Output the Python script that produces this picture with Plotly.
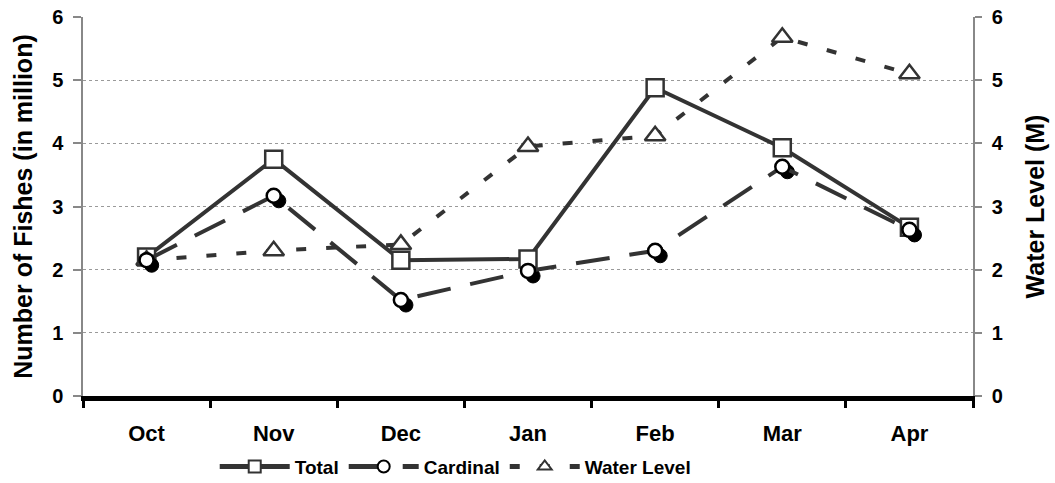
import plotly.graph_objects as go

months = ["Oct", "Nov", "Dec", "Jan", "Feb", "Mar", "Apr"]
total = [2.2, 3.75, 2.15, 2.17, 4.88, 3.93, 2.67]
cardinal = [2.15, 3.17, 1.52, 1.98, 2.3, 3.63, 2.63]
water_level = [2.15, 2.3, 2.4, 3.95, 4.12, 5.68, 5.1]
y_ticks = [0, 1, 2, 3, 4, 5, 6]

FONT = "Liberation Sans, Arial, sans-serif"
LINE = "#333333"

fig = go.Figure()

fig.add_trace(go.Scatter(
    x=months, y=total, name="Total", mode="lines+markers",
    line=dict(color=LINE, width=4),
    marker=dict(symbol="square", size=17, color="white", line=dict(color=LINE, width=2.5)),
    xaxis="x", yaxis="y", legendrank=1,
))
fig.add_trace(go.Scatter(
    x=months, y=water_level, name="Water Level", mode="lines+markers",
    line=dict(color=LINE, width=4, dash="10px,20px"),
    marker=dict(symbol="triangle-up", size=18, color="white", line=dict(color=LINE, width=2.5)),
    xaxis="x", yaxis="y2", legendrank=3,
))
# shadow of the cardinal markers (shifted via offset overlay axes)
fig.add_trace(go.Scatter(
    x=months, y=cardinal, name="Cardinal shadow", mode="markers",
    marker=dict(symbol="circle", size=14, color="black", line=dict(color="black", width=1)),
    xaxis="x2", yaxis="y3", showlegend=False, hoverinfo="skip",
))
fig.add_trace(go.Scatter(
    x=months, y=cardinal, name="Cardinal", mode="lines+markers",
    line=dict(color=LINE, width=4, dash="34px,20px"),
    marker=dict(symbol="circle", size=14, color="white", line=dict(color="black", width=2.5)),
    xaxis="x3", yaxis="y4", legendrank=2,
))

dx = 0.04
dy = 0.08
fig.update_layout(
    width=1055, height=483,
    margin=dict(l=83, r=82, t=17, b=87),
    paper_bgcolor="white", plot_bgcolor="white",
    font=dict(family=FONT, size=18, color="black"),
    showlegend=True,
    legend=dict(orientation="h", x=0.148, xanchor="left", y=0.034, yanchor="middle",
                yref="container",
                font=dict(family=FONT, size=19, color="black", weight="bold"),
                itemwidth=70, tracegroupgap=0, itemsizing="constant"),
    xaxis=dict(type="category", categoryorder="array", categoryarray=months,
               range=[-0.5, 6.5], showgrid=False, showline=True, linecolor="black", linewidth=5,
               ticks="outside", tickson="boundaries", ticklen=7, tickwidth=3, tickcolor="black",
               ticklabelstandoff=14,
               tickfont=dict(family=FONT, size=22, color="black", weight="bold"),
               zeroline=False, automargin=False),
    xaxis2=dict(type="category", categoryorder="array", categoryarray=months,
                overlaying="x", range=[-0.5 - dx, 6.5 - dx], visible=False, automargin=False),
    xaxis3=dict(type="category", categoryorder="array", categoryarray=months,
                overlaying="x", range=[-0.5, 6.5], visible=False, automargin=False),
    yaxis=dict(range=[0, 6], tickvals=y_ticks, showgrid=True, gridcolor="#9a9a9a", griddash="dot",
               gridwidth=1, showline=True, linecolor="#888888", linewidth=1.5,
               ticks="outside", ticklen=8, tickcolor="#888888", tickwidth=1.5,
               ticklabelstandoff=6,
               tickfont=dict(family=FONT, size=20, color="black", weight="bold"),
               title=dict(text="Number of Fishes (in million)",
                          font=dict(family=FONT, size=25, color="black", weight="bold"), standoff=12),
               zeroline=False, automargin=False),
    yaxis2=dict(range=[0, 6], tickvals=y_ticks, overlaying="y", side="right", showgrid=False,
                showline=True, linecolor="#888888", linewidth=1.5,
                ticks="outside", ticklen=7, tickcolor="#888888", tickwidth=1.5,
                ticklabelstandoff=6,
                tickfont=dict(family=FONT, size=20, color="black", weight="bold"),
                title=dict(text="Water Level (M)",
                           font=dict(family=FONT, size=25, color="black", weight="bold"), standoff=24),
                zeroline=False, automargin=False),
    yaxis3=dict(range=[dy, 6 + dy], overlaying="y", visible=False, automargin=False),
    yaxis4=dict(range=[0, 6], overlaying="y", visible=False, automargin=False),
)

fig.write_html("out.html")
